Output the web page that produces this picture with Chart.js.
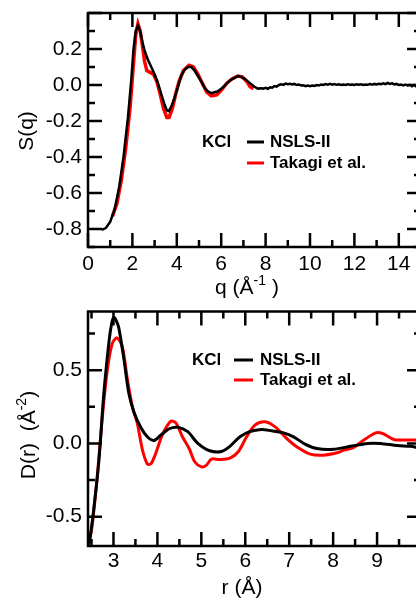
<!DOCTYPE html>
<html>
<head>
<meta charset="utf-8">
<script src="https://cdn.jsdelivr.net/npm/chart.js@4.4.1/dist/chart.umd.min.js"></script>
<style>
  body { margin: 0; width: 416px; height: 601px; overflow: hidden; background: #fff; position: relative; }
  canvas { position: absolute; left: 0; }
  #sq { top: 0; }
  #dr { top: 300px; }
</style>
</head>
<body>
<canvas id="sq" width="425" height="300"></canvas>
<canvas id="dr" width="425" height="301"></canvas>
<script>
// S(q), NSLS-II
const sqQBlack = [0.62, 0.8, 1.0, 1.2, 1.4, 1.6, 1.8, 1.95, 2.05, 2.15, 2.25, 2.35, 2.45, 2.55, 2.7, 2.85, 3.0, 3.15, 3.3, 3.45, 3.55, 3.65, 3.75, 3.9, 4.05, 4.2, 4.35, 4.5, 4.65, 4.8, 4.95, 5.1, 5.25, 5.4, 5.55, 5.7, 5.85, 6.0, 6.15, 6.3, 6.45, 6.6, 6.75, 6.9, 7.05, 7.2, 7.35, 7.5, 7.65, 7.8,
  7.9, 8.0, 8.1, 8.2, 8.3, 8.4, 8.5, 8.6, 8.7, 8.8, 8.9, 9.0, 9.1, 9.2, 9.3, 9.4, 9.5, 9.6, 9.7, 9.8, 9.9, 10.0, 10.1, 10.2, 10.3, 10.4, 10.5, 10.6, 10.7, 10.8, 10.9, 11.0, 11.1, 11.2, 11.3, 11.4, 11.5, 11.6, 11.7, 11.8, 11.9, 12.0, 12.1, 12.2, 12.3, 12.4, 12.5, 12.6, 12.7, 12.8, 12.9, 13.0, 13.1, 13.2, 13.3, 13.4, 13.5, 13.6, 13.7, 13.8, 13.9, 14.0, 14.1, 14.2, 14.3, 14.4, 14.5, 14.6, 14.7, 14.8, 14.9, 15.0];
const sqSBlack = [-0.805, -0.795, -0.76, -0.69, -0.57, -0.40, -0.18, 0.03, 0.20, 0.30, 0.33, 0.30, 0.24, 0.19, 0.14, 0.10, 0.06, 0.01, -0.05, -0.11, -0.14, -0.145, -0.12, -0.07, -0.01, 0.05, 0.085, 0.10, 0.10, 0.08, 0.05, 0.02, -0.015, -0.035, -0.045, -0.04, -0.035, -0.02, -0.005, 0.015, 0.03, 0.04, 0.05, 0.045, 0.035, 0.02, 0.005, -0.01, -0.02, -0.018,
  -0.020, -0.016, -0.021, -0.013, -0.015, -0.006, -0.009, 0.000, 0.004, 0.001, 0.008, 0.004, 0.007, 0.003, 0.006, 0.000, 0.003, -0.003, -0.001, -0.006, -0.003, -0.007, -0.003, -0.005, 0.000, -0.003, 0.003, 0.000, 0.005, 0.002, 0.006, 0.002, 0.005, 0.001, 0.004, 0.000, 0.003, 0.000, 0.004, 0.001, 0.003, 0.000, 0.004, 0.001, 0.004, 0.000, 0.003, 0.002, 0.005, 0.002, 0.006, 0.003, 0.007, 0.004, 0.009, 0.005, 0.012, 0.006, 0.009, 0.003, 0.006, 0.000, 0.003, -0.002, 0.002, -0.003, 0.001, -0.007, 0.000, -0.010, -0.003, -0.006];

// S(q), Takagi et al.
const sqQRed = [1.1, 1.3, 1.5, 1.7, 1.9, 2.05, 2.15, 2.25, 2.35, 2.45, 2.55, 2.65, 2.8, 2.95, 3.1, 3.25, 3.4, 3.55, 3.65, 3.8, 3.95, 4.1, 4.3, 4.55, 4.75, 4.95, 5.15, 5.35, 5.55, 5.8, 6.0, 6.25, 6.5, 6.75, 6.95, 7.15, 7.3, 7.45];
const sqSRed = [-0.73, -0.66, -0.53, -0.35, -0.12, 0.12, 0.28, 0.34, 0.30, 0.22, 0.13, 0.08, 0.07, 0.06, 0.02, -0.05, -0.13, -0.18, -0.18, -0.13, -0.05, 0.02, 0.08, 0.11, 0.10, 0.06, 0.01, -0.04, -0.06, -0.055, -0.03, 0.01, 0.035, 0.05, 0.045, 0.02, -0.01, -0.02];

// D(r), NSLS-II
const drRBlack = [2.43, 2.46, 2.55, 2.67, 2.78, 2.9, 2.96, 3.01, 3.06, 3.12, 3.24, 3.35, 3.47, 3.62, 3.77, 3.92, 4.08, 4.27, 4.46, 4.69, 4.92, 5.19, 5.46, 5.65, 5.88, 6.1, 6.37, 6.6, 6.87, 7.1, 7.36, 7.63, 8.01, 8.39, 8.78, 9.08, 9.46, 9.77, 10.0];
const drDBlack = [-0.69, -0.66, -0.45, -0.11, 0.34, 0.70, 0.82, 0.86, 0.84, 0.79, 0.57, 0.34, 0.21, 0.11, 0.045, 0.02, 0.057, 0.10, 0.11, 0.08, 0.0, -0.05, -0.055, -0.02, 0.045, 0.08, 0.095, 0.086, 0.072, 0.045, -0.005, -0.035, -0.04, -0.02, 0.0, 0.0, -0.015, -0.02, -0.035];

// D(r), Takagi et al.
const drRRed = [2.44, 2.51, 2.63, 2.74, 2.86, 2.97, 3.08, 3.2, 3.31, 3.43, 3.54, 3.66, 3.77, 3.85, 3.96, 4.11, 4.3, 4.42, 4.57, 4.73, 4.85, 5.0, 5.11, 5.23, 5.42, 5.65, 5.84, 6.03, 6.22, 6.45, 6.68, 6.94, 7.17, 7.48, 7.78, 8.09, 8.24, 8.47, 8.7, 8.97, 9.12, 9.38, 9.61, 10.0];
const drDRed = [-0.68, -0.57, -0.23, 0.16, 0.50, 0.68, 0.72, 0.66, 0.45, 0.25, 0.14, -0.045, -0.14, -0.14, -0.07, 0.057, 0.15, 0.14, 0.045, -0.04, -0.125, -0.16, -0.15, -0.107, -0.11, -0.10, -0.057, 0.045, 0.125, 0.148, 0.113, 0.034, -0.023, -0.073, -0.08, -0.064, -0.046, -0.027, 0.023, 0.072, 0.068, 0.027, 0.023, 0.023];

// tick labels
const sqXTicks = [0, 2, 4, 6, 8, 10, 12, 14];
const sqYTicks = [-0.8, -0.6, -0.4, -0.2, 0.0, 0.2];
const drXTicks = [3, 4, 5, 6, 7, 8, 9];
const drYTicks = [-0.5, 0.0, 0.5];

const FONT = "'Liberation Sans', Arial, sans-serif";
Chart.defaults.font.family = FONT;
Chart.defaults.color = '#000';

function toPts(xs, ys) {
    return xs.map((x, i) => ({ x: x, y: ys[i] }));
}

function drawRich(ctx, parts, x, y, size) {
    let w = 0;
    parts.forEach(p => {
        ctx.font = (p.sup ? Math.round(size * 0.65) : size) + 'px ' + FONT;
        p.w = ctx.measureText(p.t).width;
        w += p.w;
    });
    let cx = x - w / 2;
    parts.forEach(p => {
        ctx.font = (p.sup ? Math.round(size * 0.65) : size) + 'px ' + FONT;
        ctx.fillText(p.t, cx, p.sup ? y - size * 0.42 : y);
        cx += p.w;
    });
}

// frame with inward ticks, legend text and axis titles (xmgrace look)
const framePlugin = {
    id: 'frame',
    afterDatasetsDraw(chart, args, o) {
        const { ctx, chartArea: a, scales } = chart;
        const xs = scales.x, ys = scales.y;
        ctx.save();
        ctx.strokeStyle = '#000';
        ctx.fillStyle = '#000';
        ctx.lineWidth = 2.5;
        ctx.strokeRect(a.left, a.top, a.right - a.left, a.bottom - a.top);

        const isMajor = (v, step) => Math.abs(v / step - Math.round(v / step)) < 1e-6;
        ctx.beginPath();
        for (let i = Math.ceil(xs.min / o.xMinor - 1e-6); i * o.xMinor <= xs.max + 1e-6; i++) {
            const v = i * o.xMinor;
            const px = xs.getPixelForValue(v);
            const len = isMajor(v, o.xMajor) ? 14 : 7;
            ctx.moveTo(px, a.bottom); ctx.lineTo(px, a.bottom - len);
            ctx.moveTo(px, a.top); ctx.lineTo(px, a.top + len);
        }
        for (let i = Math.ceil(ys.min / o.yMinor - 1e-6); i * o.yMinor <= ys.max + 1e-6; i++) {
            const v = i * o.yMinor;
            const py = ys.getPixelForValue(v);
            const len = isMajor(v, o.yMajor) ? 14 : 7;
            ctx.moveTo(a.left, py); ctx.lineTo(a.left + len, py);
            ctx.moveTo(a.right, py); ctx.lineTo(a.right - len, py);
        }
        ctx.stroke();

        // legend
        const L = o.legend;
        ctx.textBaseline = 'middle';
        ctx.textAlign = 'left';
        ctx.font = 'bold 17px ' + FONT;
        ctx.fillText(L.title, a.left + L.x, a.top + L.y);
        chart.data.datasets.forEach((ds, i) => {
            const yy = a.top + L.y + i * L.dy;
            ctx.strokeStyle = ds.borderColor;
            ctx.lineWidth = 3;
            ctx.beginPath();
            ctx.moveTo(a.left + L.lineX, yy);
            ctx.lineTo(a.left + L.lineX + L.lineW, yy);
            ctx.stroke();
            ctx.fillText(ds.label, a.left + L.textX, yy);
        });

        // axis titles
        ctx.textBaseline = 'alphabetic';
        drawRich(ctx, o.xTitle.parts, o.xTitle.x, o.xTitle.y, 21);
        ctx.translate(o.yTitle.x, o.yTitle.y);
        ctx.rotate(-Math.PI / 2);
        drawRich(ctx, o.yTitle.parts, 0, 0, 21);
        ctx.restore();
    }
};

function makeChart(id, cfg) {
    return new Chart(document.getElementById(id), {
        type: 'line',
        data: {
            datasets: [
                { label: 'NSLS-II', data: cfg.black, borderColor: '#000000', borderWidth: cfg.blackWidth, pointRadius: 0, tension: cfg.tension, fill: false },
                { label: 'Takagi et al.', data: cfg.red, borderColor: '#ff0000', borderWidth: cfg.redWidth, pointRadius: 0, tension: cfg.tension, fill: false }
            ]
        },
        options: {
            responsive: false,
            animation: false,
            devicePixelRatio: 1,
            layout: { padding: { left: 0, right: 4, top: cfg.top, bottom: 0 } },
            plugins: {
                legend: { display: false },
                tooltip: { enabled: false },
                frame: cfg.frame
            },
            scales: {
                x: {
                    type: 'linear', min: cfg.xMin, max: cfg.xMax,
                    grid: { display: false, drawTicks: false },
                    border: { display: false },
                    ticks: { font: { size: 21 }, color: '#000', padding: cfg.xPad, maxRotation: 0, callback: v => String(v) },
                    afterBuildTicks: s => { s.ticks = cfg.xTicks.map(v => ({ value: v })); },
                    afterFit: s => { s.height = cfg.xHeight; s.paddingLeft = 0; s.paddingRight = 0; }
                },
                y: {
                    type: 'linear', min: cfg.yMin, max: cfg.yMax,
                    grid: { display: false, drawTicks: false },
                    border: { display: false },
                    ticks: { font: { size: 21 }, color: '#000', padding: 6, callback: v => (Math.abs(v) < 1e-9 ? 0 : v).toFixed(1) },
                    afterBuildTicks: s => { s.ticks = cfg.yTicks.map(v => ({ value: v })); },
                    afterFit: s => { s.width = 88; s.paddingTop = 0; s.paddingBottom = 0; }
                }
            }
        },
        plugins: [framePlugin]
    });
}

makeChart('sq', {
    black: toPts(sqQBlack, sqSBlack),
    red: toPts(sqQRed, sqSRed),
    blackWidth: 2.5, redWidth: 3.5, tension: 0,
    top: 13, xHeight: 53, xPad: 5,
    xMin: 0, xMax: 15, yMin: -0.9, yMax: 0.4,
    xTicks: sqXTicks, yTicks: sqYTicks,
    frame: {
        xMajor: 2, xMinor: 1, yMajor: 0.2, yMinor: 0.1,
        legend: { title: 'KCl', x: 114, y: 129, dy: 21, lineX: 159, lineW: 17, textX: 182 },
        xTitle: { parts: [{ t: 'q (Å' }, { t: '-1', sup: true }, { t: ' )' }], x: 247, y: 294 },
        yTitle: { parts: [{ t: 'S(q)' }], x: 33, y: 131 }
    }
});

makeChart('dr', {
    black: toPts(drRBlack, drDBlack),
    red: toPts(drRRed, drDRed),
    blackWidth: 3, redWidth: 3, tension: 0.3,
    top: 11.5, xHeight: 55, xPad: 3,
    xMin: 2.42, xMax: 10, yMin: -0.7, yMax: 0.9,
    xTicks: drXTicks, yTicks: drYTicks,
    frame: {
        xMajor: 1, xMinor: 0.5, yMajor: 0.5, yMinor: 0.25,
        legend: { title: 'KCl', x: 104, y: 48.5, dy: 20, lineX: 146, lineW: 19, textX: 172 },
        xTitle: { parts: [{ t: 'r (Å)' }], x: 242, y: 294 },
        yTitle: { parts: [{ t: 'D(r)  (Å' }, { t: '-2', sup: true }, { t: ')' }], x: 35, y: 135 }
    }
});
</script>
</body>
</html>
